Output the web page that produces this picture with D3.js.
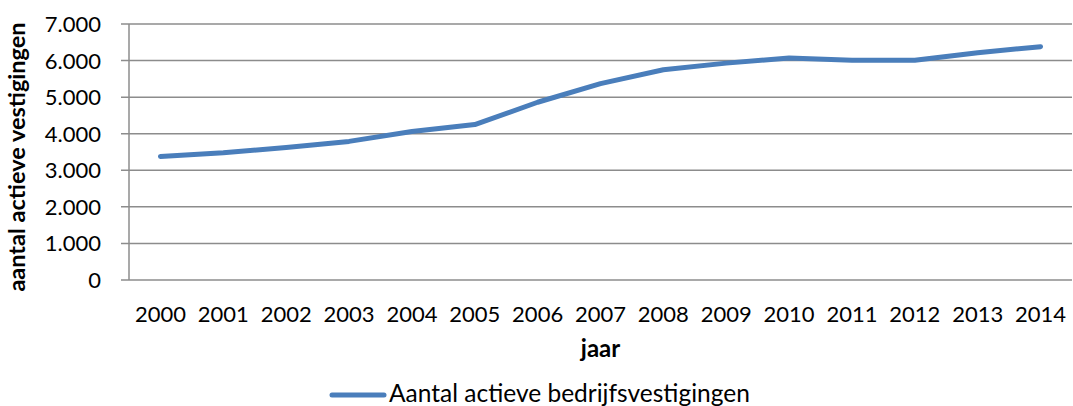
<!DOCTYPE html>
<html><head><meta charset="utf-8">
<script src="https://cdn.jsdelivr.net/npm/d3@7/dist/d3.min.js"></script>
<style>body{margin:0;background:#fff}svg{display:block}text{font-family:Lato,"Open Sans",sans-serif;fill:#000}</style>
</head><body>
<svg id="c" width="1073" height="406"></svg>
<script>
const years = ["2000","2001","2002","2003","2004","2005","2006","2007","2008","2009","2010","2011","2012","2013","2014"];
const values = [3380,3480,3620,3790,4060,4250,4860,5370,5750,5930,6070,6010,6010,6215,6380];
const yTicks = [0,1000,2000,3000,4000,5000,6000,7000];
const seriesName = "Aantal actieve bedrijfsvestigingen";
const xTitle = "jaar";
const yTitle = "aantal actieve vestigingen";

const svg = d3.select("#c");
const m = {l:129, r:1072, t:24, b:280};
const x = d3.scaleBand().domain(years).range([m.l, m.r]);
const y = d3.scaleLinear().domain([0,7000]).range([m.b, m.t]);
const fmt = d => d3.format(",")(d).replace(/,/g,".");

// gridlines
svg.append("g").selectAll("line").data(yTicks).join("line")
  .attr("x1", m.l-8).attr("x2", m.r).attr("y1", d=>y(d)).attr("y2", d=>y(d))
  .attr("stroke","#8c8c8c").attr("stroke-width",1.5);
// y axis line
svg.append("line").attr("x1",m.l).attr("x2",m.l).attr("y1",m.t).attr("y2",m.b)
  .attr("stroke","#8c8c8c").attr("stroke-width",1.5);
// y labels
svg.append("g").selectAll("text").data(yTicks).join("text")
  .attr("x", 101).attr("y", d=>y(d)+8).attr("text-anchor","end")
  .style("font-size","22px").text(fmt);
// x labels
svg.append("g").selectAll("text").data(years).join("text")
  .attr("x", d=>x(d)+x.bandwidth()/2).attr("y", 322).attr("text-anchor","middle")
  .style("font-size","22px").text(d=>d);
// titles
svg.append("text").attr("x", (m.l+m.r)/2).attr("y", 357).attr("text-anchor","middle")
  .style("font-size","24px").style("font-weight","bold").text(xTitle);
svg.append("text").attr("transform","translate(25,157) rotate(-90)").attr("text-anchor","middle")
  .style("font-size","23.5px").style("font-weight","bold").text(yTitle);
// line
const line = d3.line().x((d,i)=>x(years[i])+x.bandwidth()/2).y(d=>y(d));
svg.append("path").datum(values).attr("d", line).attr("fill","none")
  .attr("stroke","#4a7ebb").attr("stroke-width",5).attr("stroke-linecap","round").attr("stroke-linejoin","round");
// legend
svg.append("line").attr("x1",332).attr("x2",384).attr("y1",395).attr("y2",395)
  .attr("stroke","#4a7ebb").attr("stroke-width",5).attr("stroke-linecap","round");
svg.append("text").attr("x",389).attr("y",402).style("font-size","24.5px").text(seriesName);
</script>
</body></html>
